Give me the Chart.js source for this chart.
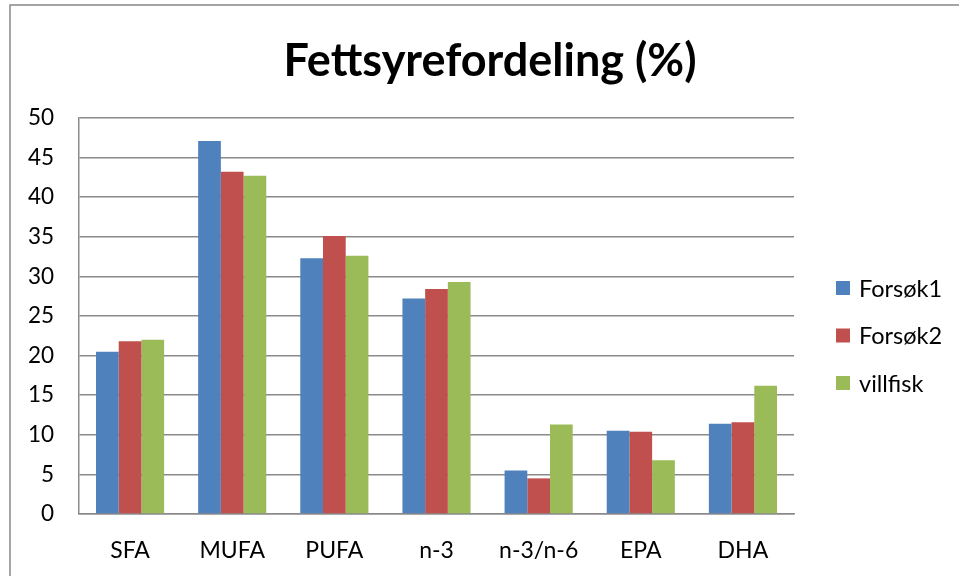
<!DOCTYPE html>
<html>
<head>
<meta charset="utf-8">
<script src="https://cdn.jsdelivr.net/npm/chart.js@4"></script>
<style>
  html, body { margin: 0; padding: 0; background: #fff; }
  #wrap { position: absolute; left: 0; top: 0; width: 959px; height: 576px; }
</style>
</head>
<body>
<div id="wrap"><canvas id="grafikk"></canvas></div>
<script>
const kategorier = ["SFA", "MUFA", "PUFA", "n-3", "n-3/n-6", "EPA", "DHA"];
const forsok1 = [20.5, 47.1, 32.3, 27.2, 5.5, 10.5, 11.4];
const forsok2 = [21.8, 43.2, 35.1, 28.4, 4.5, 10.4, 11.6];
const villfisk = [22.0, 42.7, 32.6, 29.3, 11.3, 6.8, 16.2];
const serieNavn = ["Forsøk1", "Forsøk2", "villfisk"];
const farger = ["#4F81BD", "#C0504D", "#9BBB59"];
const tittel = "Fettsyrefordeling (%)";

const fontNavn = "Lato, 'Open Sans', sans-serif";
const gridFarge = "#8a8a8a";

// ramme, tittel og forklaring tegnes her
const tegnEkstra = {
    id: "tegnEkstra",
    beforeDraw(chart) {
        const ctx = chart.ctx;
        ctx.save();
        ctx.fillStyle = "#fff";
        ctx.fillRect(0, 0, chart.width, chart.height);
        ctx.strokeStyle = "#888";
        ctx.lineWidth = 1.5;
        ctx.strokeRect(10, 5, 2000, 2000);
        ctx.restore();
    },
    afterDraw(chart) {
        const ctx = chart.ctx;
        ctx.save();
        ctx.fillStyle = "#000";
        ctx.font = "bold 45px " + fontNavn;
        ctx.textAlign = "center";
        ctx.textBaseline = "alphabetic";
        ctx.fillText(tittel, 490, 76);

        ctx.font = "23.5px " + fontNavn;
        ctx.textAlign = "left";
        ctx.textBaseline = "middle";
        chart.data.datasets.forEach((ds, i) => {
            const y = 288 + i * 47.5;
            ctx.fillStyle = ds.backgroundColor;
            ctx.fillRect(836, y - 7, 14, 14);
            ctx.fillStyle = "#000";
            ctx.fillText(ds.label, 859, y + 1);
        });
        ctx.restore();
    }
};

const datasett = [forsok1, forsok2, villfisk].map((verdier, i) => ({
    label: serieNavn[i],
    data: verdier,
    backgroundColor: farger[i],
    borderWidth: 0,
    categoryPercentage: 0.667,
    barPercentage: 1.0
}));

new Chart(document.getElementById("grafikk"), {
    type: "bar",
    data: {
        labels: kategorier,
        datasets: datasett
    },
    options: {
        responsive: true,
        maintainAspectRatio: false,
        animation: false,
        devicePixelRatio: 1,
        layout: {
            padding: { top: 118, right: 165, bottom: 0, left: 0 }
        },
        plugins: {
            legend: { display: false },
            title: { display: false },
            tooltip: { enabled: false }
        },
        scales: {
            x: {
                grid: { display: false, drawTicks: false },
                border: { display: true, color: gridFarge, width: 1.5 },
                ticks: {
                    color: "#000",
                    font: { family: fontNavn, size: 23 },
                    padding: 23,
                    maxRotation: 0
                },
                afterFit(scale) { scale.height = 62; }
            },
            y: {
                min: 0,
                max: 50,
                grid: { color: gridFarge, lineWidth: 1.5, drawTicks: false },
                border: { display: true, color: gridFarge, width: 1.5 },
                ticks: {
                    stepSize: 5,
                    color: "#000",
                    font: { family: fontNavn, size: 22.5 },
                    padding: 25
                },
                afterFit(scale) { scale.width = 79; }
            }
        }
    },
    plugins: [tegnEkstra]
});
</script>
</body>
</html>
